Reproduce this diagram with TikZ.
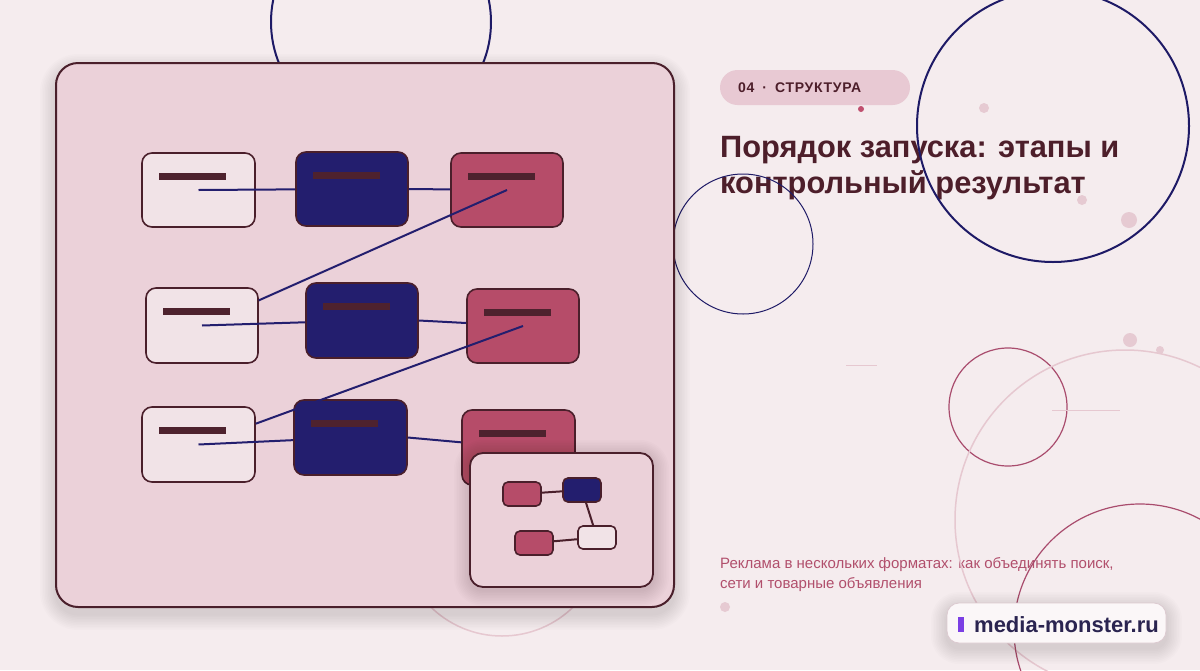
\documentclass[tikz,border=0pt]{standalone}
\usepackage{fontspec}
\setmainfont{Liberation Sans}
\definecolor{bgcol}{HTML}{F5ECEE}
\definecolor{panelfill}{HTML}{EBD1D9}
\definecolor{edgedark}{HTML}{4A1F2B}
\definecolor{nodew}{HTML}{F1E3E7}
\definecolor{nodenavy}{HTML}{231E6E}
\definecolor{nodepink}{HTML}{B64C69}
\definecolor{barcol}{HTML}{4E222E}
\definecolor{linknavy}{HTML}{231E6E}
\definecolor{titlecol}{HTML}{4D1E2A}
\definecolor{subcol}{HTML}{B14F6C}
\definecolor{pillcol}{HTML}{E8C9D3}
\definecolor{circnavy}{HTML}{1E1A66}
\definecolor{circmaroon}{HTML}{A94C6D}
\definecolor{faintcol}{HTML}{E6C8D0}
\definecolor{dotlight}{HTML}{E6CAD2}
\definecolor{dotmaroon}{HTML}{C0506F}
\definecolor{logofill}{HTML}{FBF7F8}
\definecolor{logoborder}{HTML}{DCCAD0}
\definecolor{logotext}{HTML}{2A2450}
\definecolor{logobar}{HTML}{7B3FE4}
\newcommand{\softshadow}[6]{% x1,y1,x2,y2,radius,yoffset
  \foreach \i in {1,...,10}{
    \pgfmathsetmacro{\d}{\i*1.6}
    \pgfmathsetmacro{\rr}{#5+\d}
    \fill[black, opacity=0.012, rounded corners=\rr pt] (#1-\d,#2+#6-\d) rectangle (#3+\d,#4+#6+\d);
  }}
\begin{document}
\begin{tikzpicture}[x=1pt,y=-1pt,
  box/.style={rectangle, rounded corners=10pt, draw=edgedark, line width=1.6pt, inner sep=0pt, minimum width=112pt, minimum height=74pt},
  wbox/.style={box, fill=nodew},
  nbox/.style={box, fill=nodenavy},
  pbox/.style={box, fill=nodepink},
  link/.style={draw=linknavy, line width=2pt},
  mini/.style={rectangle, rounded corners=5pt, draw=edgedark, line width=1.6pt, inner sep=0pt, minimum width=38pt, minimum height=24pt},
  minilink/.style={draw=edgedark, line width=2pt},
  bar/.style={fill=barcol},
  lightdot/.style={fill=dotlight},
]
\useasboundingbox (0,0) rectangle (1200,670);
\clip (0,0) rectangle (1200,670);
\fill[bgcol] (0,0) rectangle (1200,670);

% texts on the right
\node[anchor=center, fill=pillcol, rounded corners=17.5pt, minimum width=190pt, minimum height=35pt, inner sep=0pt] (tag) at (815,87.5) {};
\node[anchor=base west, inner sep=0pt, text=titlecol, font=\bfseries\fontsize{14}{16}\selectfont\addfontfeatures{LetterSpace=5}] (tagtext) at (738,92) {04\hspace{8pt}·\hspace{8pt}СТРУКТУРА};
\node[anchor=base west, inner sep=0pt, text=titlecol, font=\bfseries\fontsize{30.8}{36}\selectfont] (title1) at (720,157) {Порядок запуска: этапы и};
\node[anchor=base west, inner sep=0pt, text=titlecol, font=\bfseries\fontsize{30.8}{36}\selectfont] (title2) at (720,193) {контрольный результат};
\node[anchor=base west, inner sep=0pt, text=subcol, font=\fontsize{15}{20}\selectfont] (sub1) at (720,568) {Реклама в нескольких форматах: как объединять поиск,};
\node[anchor=base west, inner sep=0pt, text=subcol, font=\fontsize{15}{20}\selectfont] (sub2) at (720,588) {сети и товарные объявления};

% decorative circles, dots, lines
\draw[circnavy, line width=2pt] (381,22) circle[radius=110];
\draw[circnavy, line width=2pt] (1053,126) circle[radius=136];
\draw[circnavy, line width=1pt] (743,244) circle[radius=70];
\draw[circmaroon, line width=1.2pt] (1008,407) circle[radius=59];
\draw[faintcol, line width=1.5pt] (1125,520) circle[radius=170];
\draw[circmaroon, line width=1.2pt] (1140,630) circle[radius=126];
\draw[faintcol, line width=1.5pt] (502,534) circle[radius=102];
\draw[faintcol, line width=1pt] (846,365) -- (877,365);
\draw[faintcol, line width=1pt] (1052,410) -- (1120,410);
\fill[dotmaroon] (861,109) circle[radius=3];
\fill[lightdot] (984,108) circle[radius=5];
\fill[lightdot] (1082,200) circle[radius=5];
\fill[lightdot] (1129,220) circle[radius=8];
\fill[lightdot] (1130,340) circle[radius=7];
\fill[lightdot] (1160,350) circle[radius=4];
\fill[lightdot] (725,607) circle[radius=5];

% main panel
\softshadow{56}{63}{674}{607}{22}{7}
\node[rectangle, rounded corners=22pt, fill=panelfill, draw=edgedark, line width=2pt, minimum width=618pt, minimum height=544pt, inner sep=0pt] (panel) at (365,335) {};

% nodes
\node[wbox, minimum width=113pt] (A1) at (198.5,190) {};
\node[nbox] (B1) at (352,189) {};
\node[pbox] (C1) at (507,190) {};
\node[wbox, minimum height=75pt] (A2) at (202,325.5) {};
\node[nbox, minimum height=75pt] (B2) at (362,320.5) {};
\node[pbox] (C2) at (523,326) {};
\node[wbox, minimum width=113pt, minimum height=75pt] (A3) at (198.5,444.5) {};
\node[nbox, minimum width=113pt, minimum height=75pt] (B3) at (350.5,437.5) {};
\node[pbox, minimum width=113pt, minimum height=75pt] (C3) at (518.5,447.5) {};

\foreach \n in {A1,B1,C1,A2,B2,C2,A3,B3,C3}
  \fill[bar] ([xshift=17.5pt,yshift=-21pt]\n.north west) rectangle ++(67,7);

% connectors
\draw[link] (A1.center) -- (B1);
\draw[link] (B1.east) -- (C1);
\draw[link] (C1.center) -- (A2);
\draw[link] (A2.center) -- (B2);
\draw[link] (B2.east) -- (C2);
\draw[link] (C2.center) -- (A3);
\draw[link] (A3.center) -- (B3);
\draw[link] (B3.east) -- (C3);

% inset
\softshadow{470}{453}{653}{587}{13}{3}
\node[rectangle, rounded corners=13pt, fill=panelfill, draw=edgedark, line width=1.8pt, minimum width=183pt, minimum height=134pt, inner sep=0pt] (inset) at (561.5,520) {};
\node[mini, fill=nodepink] (p1) at (522,494) {};
\node[mini, fill=nodenavy] (n1) at (582,490) {};
\node[mini, fill=nodew, minimum height=23pt] (w1) at (597,537.5) {};
\node[mini, fill=nodepink] (p2) at (534,543) {};
\draw[minilink] (p1) -- (n1);
\draw[minilink] (n1) -- (w1);
\draw[minilink] (p2) -- (w1);

% logo
\softshadow{947}{603}{1166}{643}{12}{5}
\node[rectangle, rounded corners=12pt, fill=logofill, draw=logoborder, line width=0.8pt, minimum width=219pt, minimum height=40pt, inner sep=0pt] (logo) at (1056.5,623) {};
\fill[logobar] (958,617) rectangle (964,632);
\node[anchor=base west, inner sep=0pt, text=logotext, font=\bfseries\fontsize{22}{24}\selectfont] (logotxt) at (974,632) {media-monster.ru};
\end{tikzpicture}
\end{document}
